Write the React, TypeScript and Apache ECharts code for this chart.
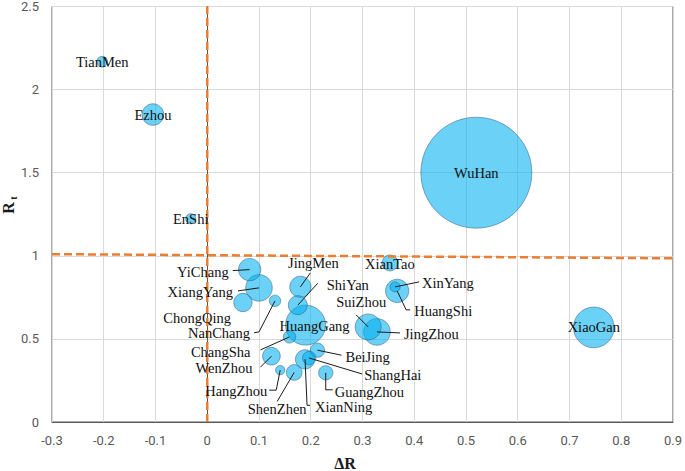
import React, { useEffect, useRef } from "react";
import * as echarts from "echarts";

const cities = [
  "TianMen", "Ezhou", "EnShi", "WuHan", "XiaoGan", "YiChang", "XiangYang", "ChongQing",
  "NanChang", "JingMen", "ShiYan", "HuangGang", "ChangSha", "WenZhou", "HangZhou",
  "ShenZhen", "XianNing", "ShangHai", "BeiJing", "GuangZhou", "XianTao", "XinYang",
  "HuangShi", "SuiZhou", "JingZhou",
];
const deltaR = [
  -0.203, -0.105, -0.032, 0.52, 0.747, 0.082, 0.1, 0.069,
  0.131, 0.18, 0.175, 0.19, 0.159, 0.124, 0.141,
  0.168, 0.189, 0.197, 0.213, 0.229, 0.353, 0.363,
  0.367, 0.311, 0.328,
];
const rt = [
  2.168, 1.85, 1.223, 1.5, 0.569, 0.917, 0.807, 0.719,
  0.729, 0.813, 0.703, 0.583, 0.512, 0.396, 0.312,
  0.298, 0.377, 0.385, 0.432, 0.296, 0.957, 0.813,
  0.789, 0.572, 0.542,
];
const bubbleSize = [
  460, 1870, 400, 49300, 6600, 2000, 2850, 1350,
  520, 1815, 1444, 6400, 615, 1253, 346,
  986, 1490, 718, 818, 818, 1024, 400,
  2172, 2704, 2850,
];
const vLineX = [0, 0];
const vLineY = [0, 2.5];
const hLineX = [-0.3, 0.9];
const hLineY = [1.01, 0.985];

// label placement (pixel offsets from bubble centre) – layout only
type LabelPos = { t: [number, number]; a: "left" | "right" | "center"; p?: number[][] };
const labelPos: Record<string, LabelPos> = {
  TianMen: { t: [0, 0], a: "center" },
  Ezhou: { t: [0, 0], a: "center" },
  EnShi: { t: [0, 0], a: "center" },
  WuHan: { t: [0, 0], a: "center" },
  XiaoGan: { t: [0, 0], a: "center" },
  XianTao: { t: [0, 1], a: "center" },
  HuangGang: { t: [9, 1], a: "center" },
  YiChang: { t: [-21, 2], a: "right", p: [[-17, 1]] },
  XiangYang: { t: [-26, 4], a: "right", p: [[-21, 3]] },
  ChongQing: { t: [-12, 15], a: "right" },
  NanChang: { t: [-25, 32], a: "right", p: [[-21, 32], [-16, 31]] },
  JingMen: { t: [13, -24], a: "center", p: [[10, -14]] },
  ShiYan: { t: [29, -20], a: "left", p: [[20, -22]] },
  ChangSha: { t: [-39, 15], a: "right", p: [[-29, 13]] },
  WenZhou: { t: [-19, 12], a: "right", p: [[-11, 11]] },
  HangZhou: { t: [-13, 21], a: "right", p: [[-11, 20], [-4, 20]] },
  ShenZhen: { t: [-17, 37], a: "center", p: [[-17, 29]] },
  XianNing: { t: [10, 48], a: "left", p: [[5, 46], [2, 46]] },
  ShangHai: { t: [55, 17], a: "left", p: [[53, 16]] },
  BeiJing: { t: [28, 7], a: "left", p: [[24, 5]] },
  GuangZhou: { t: [9, 19], a: "left", p: [[7, 17], [0, 17]] },
  XinYang: { t: [27, -4], a: "left", p: [[24, -5]] },
  HuangShi: { t: [17, 20], a: "left", p: [[13, 19], [9, 19]] },
  SuiZhou: { t: [-7, -25], a: "center", p: [[-12, -12]] },
  JingZhou: { t: [27, 2], a: "left", p: [[23, 1]] },
};

const SERIF = "Liberation Serif";

export default function App() {
  const ref = useRef<HTMLDivElement>(null);
  useEffect(() => {
    if (!ref.current) return;
    const chart = echarts.init(ref.current, null, { renderer: "svg" });
    const order = cities.map((_, i) => i).sort((a, b) => bubbleSize[b] - bubbleSize[a]);
    const bubbleData = order.map((i) => [deltaR[i], rt[i], bubbleSize[i], cities[i]]);
    const labelData = cities.map((_, i) => [deltaR[i], rt[i], i]);
    const fmt = (v: number) => String(Math.round(v * 10) / 10);
    chart.setOption({
      animation: false,
      grid: { left: 52, right: 12, top: 6, bottom: 49, show: true, borderColor: "#595959", borderWidth: 1 },
      xAxis: {
        type: "value", min: -0.3, max: 0.9, interval: 0.1,
        axisLine: { show: true, lineStyle: { color: "#595959" } },
        axisTick: { show: false },
        splitLine: { show: true, lineStyle: { color: "#d9d9d9", width: 1 } },
        axisLabel: { color: "#595959", fontSize: 13, fontFamily: "Roboto", margin: 12, formatter: fmt },
      },
      yAxis: {
        type: "value", min: 0, max: 2.5, interval: 0.5,
        axisLine: { show: true, lineStyle: { color: "#595959" } },
        axisTick: { show: false },
        splitLine: { show: true, lineStyle: { color: "#d9d9d9", width: 1 } },
        axisLabel: { color: "#595959", fontSize: 13, fontFamily: "Roboto", margin: 13, formatter: fmt },
      },
      graphic: [
        { type: "text", x: 345, y: 463, style: { text: "ΔR", fill: "#1a1a1a", fontFamily: SERIF, fontSize: 16, fontWeight: "bold", align: "center", verticalAlign: "middle" } },
        { type: "text", x: 8, y: 208, rotation: Math.PI / 2, style: { text: "R", fill: "#1a1a1a", fontFamily: SERIF, fontSize: 16, fontWeight: "bold", align: "center", verticalAlign: "middle" } },
        { type: "text", x: 13, y: 198, rotation: Math.PI / 2, style: { text: "t", fill: "#1a1a1a", fontFamily: SERIF, fontSize: 10, fontWeight: "bold", align: "center", verticalAlign: "middle" } },
      ],
      series: [
        {
          type: "scatter",
          data: bubbleData,
          symbolSize: (v: number[]) => Math.sqrt(v[2]) * 0.5,
          itemStyle: { color: "rgba(0,176,240,0.72)", borderColor: "rgba(45,90,120,0.85)", borderWidth: 0.75 },
          emphasis: { disabled: true },
          z: 2,
        },
        {
          type: "line",
          data: vLineX.map((x, i) => [x, vLineY[i]]),
          symbol: "none",
          lineStyle: { color: "#ED7D31", width: 2.5, type: [8, 4] },
          z: 3,
        },
        {
          type: "line",
          data: hLineX.map((x, i) => [x, hLineY[i]]),
          symbol: "none",
          lineStyle: { color: "#ED7D31", width: 2.5, type: [8, 4] },
          z: 3,
        },
        {
          type: "custom",
          data: labelData,
          clip: false,
          silent: true,
          z: 4,
          renderItem: (params: any, api: any) => {
            const idx = api.value(2);
            const name = cities[idx];
            const lp = labelPos[name];
            const c = api.coord([api.value(0), api.value(1)]);
            const children: any[] = [];
            if (lp.p) {
              const pts = lp.p.map((p) => [c[0] + p[0], c[1] + p[1]]);
              pts.push([c[0], c[1]]);
              children.push({
                type: "polyline",
                shape: { points: pts },
                style: { stroke: "#1a1a1a", lineWidth: 1, fill: null },
              });
            }
            children.push({
              type: "text",
              x: c[0] + lp.t[0],
              y: c[1] + lp.t[1],
              style: {
                text: name,
                fill: "#111",
                fontFamily: SERIF,
                fontSize: 14.5,
                align: lp.a,
                verticalAlign: "middle",
              },
            });
            return { type: "group", children };
          },
        },
      ],
    });
    return () => chart.dispose();
  }, []);
  return <div ref={ref} style={{ width: 685, height: 471, position: "absolute", left: 0, top: 0 }} />;
}
